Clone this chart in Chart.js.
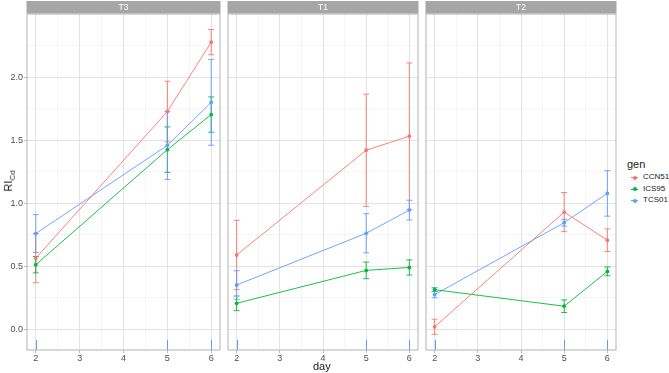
<!DOCTYPE html>
<html>
<head>
<meta charset="utf-8">
<script src="https://cdn.jsdelivr.net/npm/chart.js@4/dist/chart.umd.min.js"></script>
<style>
  body { margin: 0; background: #fff; font-family: "Liberation Sans", Arial, sans-serif; }
  #wrap { position: relative; width: 669px; height: 373px; overflow: hidden; }
  canvas { position: absolute; top: 0; }
  .txt { position: absolute; color: #1a1a1a; white-space: nowrap; line-height: 1; }
  .key { position: absolute; width: 7px; height: 1px; }
  .dot { position: absolute; width: 4px; height: 4px; border-radius: 50%; }
  #ytitle { position: absolute; left: 10px; top: 181px; font-size: 11px; color: #1a1a1a; line-height: 1;
            white-space: nowrap; transform: translate(-50%, -50%) rotate(-90deg); }
</style>
</head>
<body>
<div id="wrap">
  <canvas id="c0" width="224" height="373" style="left:0"></canvas>
  <canvas id="c1" width="198" height="373" style="left:224px"></canvas>
  <canvas id="c2" width="198" height="373" style="left:422px"></canvas>
  <div id="ytitle">RI<sub style="font-size:8px">Cd</sub></div>
  <div class="txt" style="left:313px; top:361px; font-size:11px;">day</div>
  <div id="legend"></div>
</div>
<script>
const days = [2, 5, 6];
const panels = ['T3', 'T1', 'T2'];
const genotypes = ['CCN51', 'ICS95', 'TCS01'];
const colors = ['#F8766D', '#00BA38', '#619CFF'];
const xTicks = [2, 3, 4, 5, 6];
const yTicks = [0, 0.5, 1, 1.5, 2];

// rows follow genotypes, columns follow days
const meanT3 = [[0.565, 1.727, 2.277], [0.513, 1.425, 1.703], [0.76, 1.459, 1.80]];
const seT3   = [[0.195, 0.24, 0.10],   [0.065, 0.18, 0.14],   [0.15, 0.27, 0.34]];
const meanT1 = [[0.59, 1.42, 1.532],   [0.207, 0.468, 0.491], [0.352, 0.762, 0.946]];
const seT1   = [[0.275, 0.445, 0.58],  [0.058, 0.066, 0.06],  [0.113, 0.155, 0.078]];
const meanT2 = [[0.021, 0.93, 0.707],  [0.315, 0.184, 0.46],  [0.276, 0.846, 1.078]];
const seT2   = [[0.06, 0.155, 0.09],   [0.015, 0.05, 0.035],  [0.025, 0.027, 0.18]];

const means = [meanT3, meanT1, meanT2];
const ses = [seT3, seT1, seT2];

const font = '"Liberation Sans", Arial, sans-serif';

function minorTicks(major) {
  const out = [];
  for (let i = 0; i < major.length; i++) {
    out.push(major[i]);
    if (i < major.length - 1) out.push((major[i] + major[i + 1]) / 2);
  }
  return out;
}

const panelPlugin = {
  id: 'panel',
  beforeDatasetsDraw(chart, args, opts) {
    const ctx = chart.ctx, xs = chart.scales.x, ys = chart.scales.y;
    const a = chart.chartArea;
    ctx.save();
    ctx.beginPath();
    ctx.rect(a.left, a.top, a.right - a.left, a.bottom - a.top);
    ctx.clip();
    ctx.lineWidth = 0.9;
    opts.mean.forEach((row, g) => {
      ctx.strokeStyle = colors[g];
      row.forEach((m, i) => {
        const x = xs.getPixelForValue(days[i]);
        const yHi = ys.getPixelForValue(m + opts.se[g][i]);
        const yLo = ys.getPixelForValue(m - opts.se[g][i]);
        ctx.beginPath();
        ctx.moveTo(x, yHi); ctx.lineTo(x, yLo);
        ctx.moveTo(x - 3, yHi); ctx.lineTo(x + 3, yHi);
        ctx.moveTo(x - 3, yLo); ctx.lineTo(x + 3, yLo);
        ctx.stroke();
      });
    });
    // rug along the bottom
    ctx.lineWidth = 1;
    opts.mean.forEach((row, g) => {
      ctx.strokeStyle = colors[g];
      days.forEach(d => {
        const x = Math.round(xs.getPixelForValue(d)) + 0.5;
        ctx.beginPath();
        ctx.moveTo(x, a.bottom - 10); ctx.lineTo(x, a.bottom);
        ctx.stroke();
      });
    });
    ctx.restore();
  },
  afterDraw(chart, args, opts) {
    const ctx = chart.ctx, a = chart.chartArea;
    ctx.save();
    ctx.strokeStyle = '#b3b3b3';
    ctx.lineWidth = 1;
    ctx.strokeRect(a.left, a.top, a.right - a.left, a.bottom - a.top);
    ctx.fillStyle = '#a6a6a6';
    ctx.fillRect(a.left - 0.5, 1, a.right - a.left + 1, 12.5);
    ctx.fillStyle = '#ffffff';
    ctx.font = '8.5px ' + font;
    ctx.textAlign = 'center';
    ctx.textBaseline = 'middle';
    ctx.fillText(opts.label, (a.left + a.right) / 2, 7.5);
    ctx.restore();
  }
};

panels.forEach((name, p) => {
  const first = p === 0;
  new Chart(document.getElementById('c' + p), {
    type: 'line',
    data: {
      datasets: genotypes.map((g, k) => ({
        label: g,
        data: days.map((d, i) => ({ x: d, y: means[p][k][i] })),
        borderColor: colors[k],
        backgroundColor: colors[k],
        borderWidth: 0.9,
        pointRadius: 1.9,
        pointBorderWidth: 0,
        pointBackgroundColor: colors[k],
        tension: 0
      }))
    },
    options: {
      responsive: false,
      animation: false,
      devicePixelRatio: 1,
      layout: { padding: { top: 14, right: 2, left: first ? 0 : 2.5, bottom: 0 } },
      plugins: {
        legend: { display: false },
        tooltip: { enabled: false },
        panel: { label: name, mean: means[p], se: ses[p] }
      },
      scales: {
        x: {
          type: 'linear',
          min: 1.8,
          max: 6.2,
          afterBuildTicks: s => { s.ticks = minorTicks(xTicks).map(v => ({ value: v })); },
          afterFit: s => { s.height = 23; },
          border: { display: false },
          grid: {
            color: c => (c.tick && c.tick.value % 1 !== 0) ? '#eeeeee' : '#e0e0e0',
            lineWidth: c => (c.tick && c.tick.value % 1 !== 0) ? 0.6 : 0.9,
            tickColor: c => (c.tick && c.tick.value % 1 !== 0) ? 'rgba(0,0,0,0)' : '#b3b3b3',
            tickLength: 3
          },
          ticks: {
            padding: 0,
            color: '#4d4d4d',
            font: { size: 9, family: font },
            maxRotation: 0,
            autoSkip: false,
            callback: v => v % 1 === 0 ? String(v) : ''
          }
        },
        y: {
          type: 'linear',
          min: -0.163,
          max: 2.5,
          afterBuildTicks: s => { s.ticks = minorTicks(yTicks).concat([2.25]).map(v => ({ value: v })); },
          afterFit: s => { s.width = first ? 27 : 0; },
          border: { display: false },
          grid: {
            color: c => (c.tick && Math.abs(c.tick.value * 2 % 1) > 0.01) ? '#eeeeee' : '#e0e0e0',
            lineWidth: c => (c.tick && Math.abs(c.tick.value * 2 % 1) > 0.01) ? 0.6 : 0.9,
            tickColor: c => (c.tick && Math.abs(c.tick.value * 2 % 1) > 0.01) ? 'rgba(0,0,0,0)' : '#b3b3b3',
            tickLength: 3,
            drawTicks: first
          },
          ticks: {
            display: first,
            padding: 1,
            color: '#4d4d4d',
            font: { size: 9, family: font },
            autoSkip: false,
            callback: v => Math.abs(v * 2 % 1) > 0.01 ? '' : v.toFixed(1)
          }
        }
      }
    },
    plugins: [panelPlugin]
  });
});

// legend
const legend = document.getElementById('legend');
let html = '<div class="txt" style="left:627px; top:159px; font-size:11px;">gen</div>';
genotypes.forEach((g, k) => {
  const y = 177.5 + k * 11.5;
  html += '<div class="key" style="left:631px; top:' + (y - 0.5) + 'px; background:' + colors[k] + '"></div>';
  html += '<div class="dot" style="left:633px; top:' + (y - 2) + 'px; background:' + colors[k] + '"></div>';
  html += '<div class="txt" style="left:643px; top:' + (y - 4.5) + 'px; font-size:8px; color:#1a1a1a;">' + g + '</div>';
});
legend.innerHTML = html;
</script>
</body>
</html>
